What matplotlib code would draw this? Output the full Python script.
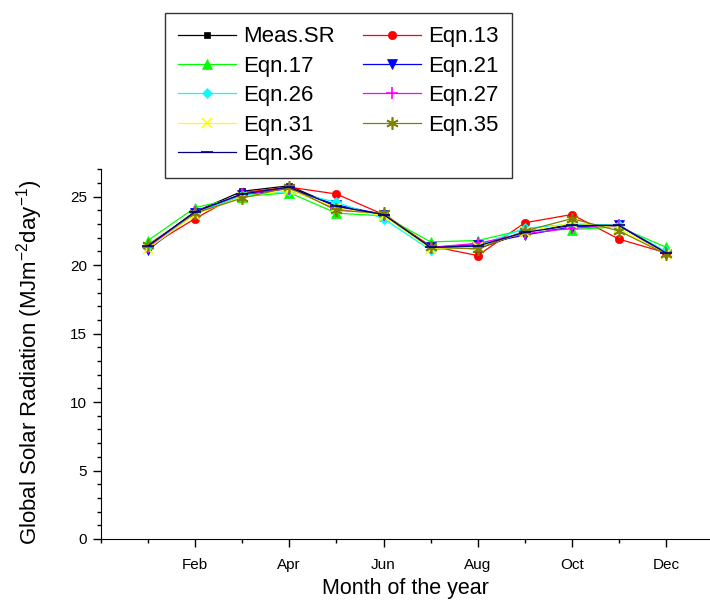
import matplotlib
matplotlib.use("Agg")
import matplotlib.pyplot as plt
from matplotlib.ticker import MultipleLocator, FixedLocator

plt.rcParams['font.family'] = ['Liberation Sans', 'DejaVu Sans']

months = [1, 2, 3, 4, 5, 6, 7, 8, 9, 10, 11, 12]
month_ticks = [2, 4, 6, 8, 10, 12]
month_labels = ["Feb", "Apr", "Jun", "Aug", "Oct", "Dec"]

meas_sr = [21.4, 23.9, 25.4, 25.8, 24.3, 23.7, 21.3, 21.2, 22.4, 23.0, 22.9, 20.9]
eqn13   = [21.3, 23.4, 25.3, 25.7, 25.2, 23.7, 21.4, 20.7, 23.1, 23.7, 21.9, 20.9]
eqn17   = [21.8, 24.2, 25.0, 25.3, 23.8, 23.6, 21.7, 21.8, 22.6, 22.6, 22.8, 21.3]
eqn21   = [21.1, 23.8, 25.1, 25.6, 24.4, 23.7, 21.3, 21.5, 22.2, 22.8, 22.9, 20.8]
eqn26   = [21.3, 23.8, 25.1, 25.4, 24.6, 23.4, 21.1, 21.4, 22.7, 23.0, 22.9, 21.0]
eqn27   = [21.3, 23.9, 25.2, 25.6, 24.1, 23.7, 21.3, 21.6, 22.3, 22.7, 22.9, 20.9]
eqn31   = [21.2, 23.7, 25.0, 25.5, 24.2, 23.6, 21.2, 21.3, 22.4, 23.1, 22.7, 20.8]
eqn35   = [21.5, 23.8, 24.9, 25.7, 24.0, 23.8, 21.3, 21.2, 22.5, 23.4, 22.5, 20.8]
eqn36   = [21.4, 23.9, 25.2, 25.7, 24.3, 23.7, 21.3, 21.4, 22.4, 22.9, 22.9, 20.9]

series = [
    ("Meas.SR", meas_sr, "black", "s", 5),
    ("Eqn.13", eqn13, "#ff0000", "o", 6),
    ("Eqn.17", eqn17, "#00ff00", "^", 7),
    ("Eqn.21", eqn21, "#0000ff", "v", 7),
    ("Eqn.26", eqn26, "#00ffff", "D", 5.5),
    ("Eqn.27", eqn27, "#ff00ff", "+", 8),
    ("Eqn.31", eqn31, "#ffff00", "x", 7),
    ("Eqn.35", eqn35, "#808000", (6, 2, 0), 9),
    ("Eqn.36", eqn36, "#000080", "_", 8),
]

fig = plt.figure(figsize=(7.10, 6.02), dpi=100)
ax = fig.add_axes([0.142, 0.1047, 0.858, 0.614])

handles = {}
for name, vals, col, mk, ms in series:
    thin = mk in ("+", "x", "_") or isinstance(mk, tuple)
    h, = ax.plot(months, vals, color=col, marker=mk, markersize=ms,
                 linewidth=0.9, markeredgewidth=1.2 if thin else 0.5,
                 markeredgecolor=col, markerfacecolor=col, label=name)
    handles[name] = h

ax.set_xlim(0, 12.93)
ax.set_ylim(0, 27)
ax.spines['top'].set_visible(False)
ax.spines['right'].set_visible(False)
ax.xaxis.set_major_locator(FixedLocator(month_ticks))
ax.set_xticklabels(month_labels)
ax.xaxis.set_minor_locator(FixedLocator([0, 1, 3, 5, 7, 9, 11]))
ax.yaxis.set_major_locator(MultipleLocator(5))
ax.yaxis.set_minor_locator(MultipleLocator(1))
ax.tick_params(which='major', direction='out', length=6, width=1, labelsize=11, pad=8)
ax.tick_params(which='minor', direction='out', length=3, width=1)
ax.tick_params(axis='y', which='major', pad=4)

ax.set_xlabel("Month of the year", fontsize=15.5, labelpad=4)
ax.set_ylabel("Global Solar Radiation (MJm$^{\\mathregular{-2}}$day$^{\\mathregular{-1}}$)",
              fontsize=16)
ax.yaxis.set_label_coords(-0.092, 0.478)

order = ["Meas.SR", "Eqn.17", "Eqn.26", "Eqn.31", "Eqn.36",
         "Eqn.13", "Eqn.21", "Eqn.27", "Eqn.35"]
leg = fig.legend([handles[n] for n in order], order, ncol=2,
                 loc='upper left', bbox_to_anchor=(165 / 710, 1 - 13 / 602),
                 fontsize=16, frameon=True, fancybox=False, edgecolor='black',
                 handlelength=2.6, handletextpad=0.3, columnspacing=1.3,
                 labelspacing=0.38, borderpad=0.6, borderaxespad=0)
leg.get_frame().set_linewidth(1.0)

fig.savefig("out.png", dpi=100)
